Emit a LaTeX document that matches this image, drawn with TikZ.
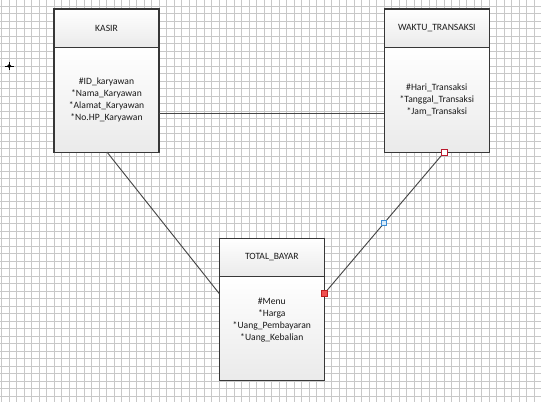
\documentclass[tikz,border=0pt]{standalone}
\usepackage{fontspec}
\setmainfont{Carlito}
\begin{document}
\begin{tikzpicture}[x=0.75pt,y=-0.75pt,
  gridline/.style={draw={rgb,255:red,200;green,200;blue,200}, line width=0.5pt},
  boxpart/.style={draw={rgb,255:red,55;green,55;blue,55}, line width=0.8pt,
    top color=white, bottom color={rgb,255:red,234;green,234;blue,234},
    inner sep=0pt, outer sep=0pt, anchor=north west},
  headbox/.style={boxpart, minimum width=78.75pt, minimum height=28.6pt},
  txt/.style={align=center, inner sep=0pt, text={rgb,255:red,25;green,25;blue,25},
    font=\fontsize{7.2}{9}\selectfont},
  conn/.style={draw={rgb,255:red,70;green,70;blue,70}, line width=0.7pt},
  endhandle/.style={draw={rgb,255:red,190;green,30;blue,30}, fill={rgb,255:red,240;green,80;blue,80},
    minimum size=4.5pt, inner sep=0pt, line width=0.5pt},
  starthandle/.style={draw={rgb,255:red,185;green,25;blue,45}, fill=white,
    minimum size=4.5pt, inner sep=0pt, line width=0.6pt},
  midhandle/.style={draw={rgb,255:red,60;green,140;blue,210}, fill={rgb,255:red,215;green,235;blue,250},
    minimum size=3.8pt, inner sep=0pt, line width=0.5pt}
]
\useasboundingbox (0,0) rectangle (541,402);
\fill[white] (0,0) rectangle (541,402);
% grid
\foreach \i in {0,...,71} \draw[gridline] ({1.7+7.5*\i},0) -- ({1.7+7.5*\i},402);
\foreach \j in {0,...,52} \draw[gridline] (0,{6+7.5*\j}) -- (541,{6+7.5*\j});
% crosshair
\draw[line width=0.6pt] (9.3,66) circle (1.6);
\draw[line width=0.6pt] (5,66) -- (13.6,66) (9.3,61.7) -- (9.3,70.3);

% KASIR
\node[headbox] (kasirh) at (54,9) {};
\node[boxpart, minimum width=78.75pt, minimum height=78.75pt] (kasirb) at (kasirh.south west) {};
\node[txt] (kasirt) at (kasirh.center) {KASIR};
\node[txt] (kasira) at (kasirb.center) {\#ID\_karyawan\\*Nama\_Karyawan\\*Alamat\_Karyawan\\*No.HP\_Karyawan};

% WAKTU_TRANSAKSI
\node[headbox] (waktuh) at (384.3,9) {};
\node[boxpart, minimum width=78.75pt, minimum height=78.75pt] (waktub) at (waktuh.south west) {};
\node[txt] (waktut) at (waktuh.center) {WAKTU\_TRANSAKSI};
\node[txt] (waktua) at (waktub.center) {\#Hari\_Transaksi\\*Tanggal\_Transaksi\\*Jam\_Transaksi};

% TOTAL_BAYAR
\node[headbox] (totalh) at (219.3,238.3) {};
\node[boxpart, minimum width=78.75pt, minimum height=78.2pt] (totalb) at (totalh.south west) {};
\node[txt] (totalt) at (totalh.center) {TOTAL\_BAYAR};
\node[txt, yshift=6pt] (totala) at (totalb.center) {\#Menu\\*Harga\\*Uang\_Pembayaran\\*Uang\_Kebalian};

% connectors
\draw[conn] ([yshift=-10.2pt]kasirb.east) -- ([yshift=-10.2pt]waktub.west);
\draw[conn] ([xshift=0.4pt]kasirb.south) -- ([yshift=26.2pt]totalb.west);
\draw[conn] ([xshift=5.6pt]waktub.south) -- node[midhandle, pos=0.5] (mid) {} ([yshift=26.2pt]totalb.east);
\node[starthandle] (sh) at ([xshift=5.6pt]waktub.south) {};
\node[endhandle] (eh) at ([yshift=26.2pt]totalb.east) {};
\end{tikzpicture}
\end{document}
